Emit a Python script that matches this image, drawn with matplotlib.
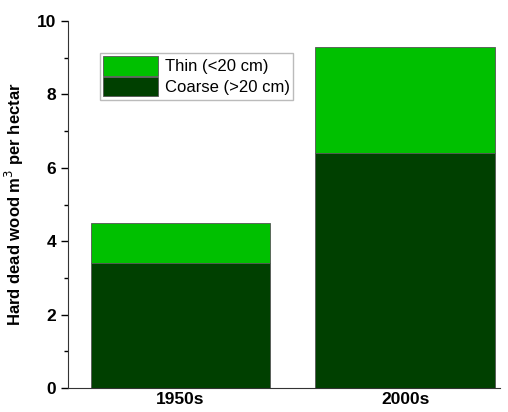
import matplotlib.pyplot as plt
from matplotlib.ticker import MultipleLocator

plt.rcParams['font.family'] = ['Liberation Sans', 'DejaVu Sans']

periods = ['1950s', '2000s']
coarse = [3.4, 6.4]
thin = [1.1, 2.9]

fig = plt.figure(figsize=(5.08, 4.12), dpi=100)
ax = fig.add_axes([0.134, 0.058, 0.85, 0.891])

x = range(len(periods))
ax.bar(x, coarse, width=0.8, color='#004000', edgecolor='#555555', linewidth=0.6,
       label='Coarse (>20 cm)')
ax.bar(x, thin, width=0.8, bottom=coarse, color='#00c000', edgecolor='#555555',
       linewidth=0.6, label='Thin (<20 cm)')

ax.set_xlim(-0.5, 1.42)
ax.set_ylim(0, 10)
ax.set_xticks(list(x))
ax.set_xticklabels(periods, fontsize=12.5, fontweight='bold')
ax.tick_params(axis='x', length=0, pad=3)
ax.yaxis.set_major_locator(MultipleLocator(2))
ax.yaxis.set_minor_locator(MultipleLocator(1))
ax.tick_params(axis='y', which='major', length=5, labelsize=12.5, width=1)
ax.tick_params(axis='y', which='minor', length=3, width=1)
for lab in ax.get_yticklabels():
    lab.set_fontweight('bold')
ax.set_ylabel('Hard dead wood m$^3$ per hectar', fontsize=12, fontweight='bold',
              labelpad=8)

ax.spines['top'].set_visible(False)
ax.spines['right'].set_visible(False)
ax.spines['left'].set_color('#333333')
ax.spines['bottom'].set_color('#333333')

handles, labels = ax.get_legend_handles_labels()
leg = ax.legend(handles[::-1], labels[::-1], loc='upper left',
                bbox_to_anchor=(0.074, 0.913), fontsize=12, frameon=True,
                fancybox=False, edgecolor='#aaaaaa', handlelength=3.3,
                handleheight=1.4, handletextpad=0.4, labelspacing=0.1,
                borderpad=0.2, borderaxespad=0)

fig.savefig('out.png', dpi=100)
